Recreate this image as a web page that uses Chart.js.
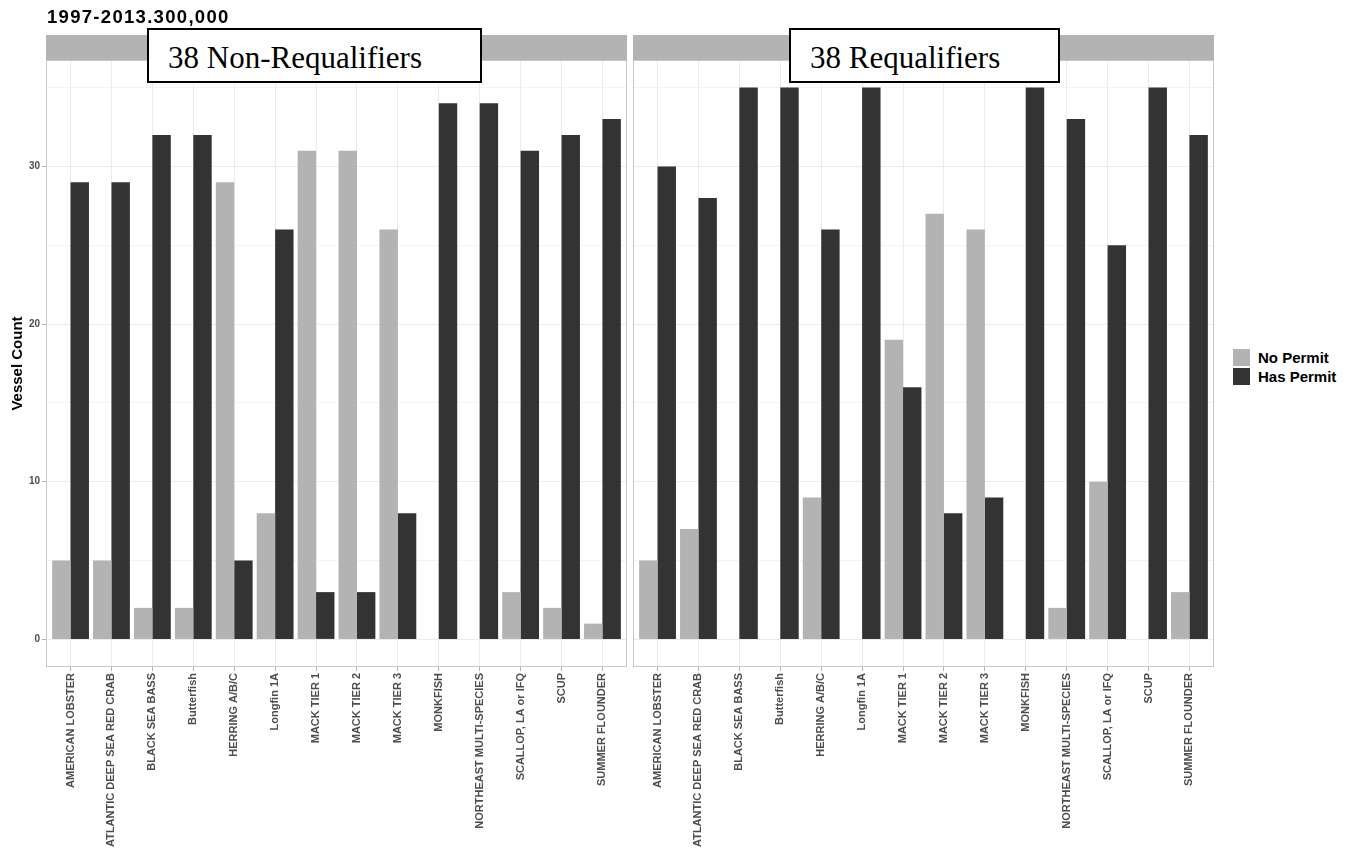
<!DOCTYPE html>
<html lang="en">
<head>
<meta charset="UTF-8">
<title>Vessel Count by Permit, 1997-2013</title>
<script src="https://cdn.jsdelivr.net/npm/chart.js"></script>
<style>
  body{margin:0;background:#fff;font-family:'Liberation Sans',Arial,sans-serif}
  #wrap{position:relative;width:1351px;height:852px;overflow:hidden}
  #cLeft{position:absolute;left:0;top:0}
  #cRight{position:absolute;left:631px;top:0}
  #title{position:absolute;left:47px;top:6px;font-weight:bold;font-size:18.5px;letter-spacing:1.3px;color:#000}
  .box{position:absolute;top:28px;height:51px;border:2px solid #000;background:#fff;
       font-family:'Liberation Serif','Times New Roman',serif;font-size:31px;line-height:55px;color:#000;white-space:nowrap}
  #legend{position:absolute;left:1233px;top:348px}
  .key{display:flex;align-items:center;height:19px}
  .key span.sw{width:17px;height:17px;margin-right:8px}
  .key span.lb{font-weight:bold;font-size:15px;color:#000}
</style>
</head>
<body>
<div id="wrap">
  <canvas id="cLeft" width="630" height="852"></canvas>
  <canvas id="cRight" width="585" height="852"></canvas>
  <div id="title"></div>
  <div class="box" id="boxLeft" style="left:147px;width:312px;padding-left:19px"></div>
  <div class="box" id="boxRight" style="left:789px;width:248px;padding-left:19px"></div>
  <div id="legend"></div>
</div>

<script>
const chartTitle = '1997-2013.300,000';
const panelTitles = ['38 Non-Requalifiers', '38 Requalifiers'];
const yTitle = 'Vessel Count';
const seriesNames = ['No Permit', 'Has Permit'];
const seriesColors = ['#b3b3b3', '#333333'];

const categories = ['AMERICAN LOBSTER','ATLANTIC DEEP SEA RED CRAB','BLACK SEA BASS','Butterfish',
  'HERRING A/B/C','Longfin 1A','MACK TIER 1','MACK TIER 2','MACK TIER 3','MONKFISH',
  'NORTHEAST MULTI-SPECIES','SCALLOP, LA or IFQ','SCUP','SUMMER FLOUNDER'];

// 38 Non-Requalifiers
const nonReqNoPermit  = [5, 5, 2, 2, 29, 8, 31, 31, 26, 0, 0, 3, 2, 1];
const nonReqHasPermit = [29, 29, 32, 32, 5, 26, 3, 3, 8, 34, 34, 31, 32, 33];
// 38 Requalifiers
const reqNoPermit  = [5, 7, 0, 0, 9, 0, 19, 27, 26, 0, 2, 10, 0, 3];
const reqHasPermit = [30, 28, 35, 35, 26, 35, 16, 8, 9, 35, 33, 25, 35, 32];

const yTicks = [0, 5, 10, 15, 20, 25, 30, 35];

Chart.defaults.font.family = "'Liberation Sans', Arial, sans-serif";

document.getElementById('title').textContent = chartTitle;
document.getElementById('boxLeft').textContent = panelTitles[0];
document.getElementById('boxRight').textContent = panelTitles[1];
document.getElementById('legend').innerHTML = seriesNames.map((n, i) =>
  `<div class="key"><span class="sw" style="background:${seriesColors[i]}"></span><span class="lb">${n}</span></div>`).join('');

/* grey strip on top of the panel + panel border (ggplot facet look) */
const panelPlugin = {
  id: 'panel',
  beforeDraw(chart){
    const {ctx, chartArea:a} = chart;
    ctx.save();
    ctx.fillStyle = '#b3b3b3';
    ctx.fillRect(a.left, 35, a.right - a.left, a.top - 35);
    ctx.restore();
  },
  afterDatasetsDraw(chart){
    const {ctx, chartArea:a} = chart;
    ctx.save();
    ctx.strokeStyle = '#c8c8c8';
    ctx.lineWidth = 1;
    ctx.strokeRect(a.left + 0.5, a.top + 0.5, a.right - a.left - 1, a.bottom - a.top - 1);
    ctx.restore();
  }
};

function makePanel(id, noP, hasP, showY){
  const txt = {color:'#4d4d4d', font:{size:11, weight:'bold'}};
  return new Chart(document.getElementById(id), {
    type: 'bar',
    data: {
      datasets: [
        {label: seriesNames[0], data: noP.map((v, i) => ({x: i, y: v})), backgroundColor: seriesColors[0]},
        {label: seriesNames[1], data: hasP.map((v, i) => ({x: i, y: v})), backgroundColor: seriesColors[1]}
      ]
    },
    options: {
      responsive: false,
      animation: false,
      layout: {padding: {top: 60, right: showY ? 3 : 2, left: showY ? 0 : 2, bottom: 0}},
      datasets: {bar: {categoryPercentage: 0.9, barPercentage: 1}},
      plugins: {legend: {display: false}, tooltip: {enabled: false}},
      scales: {
        x: {
          type: 'linear', min: -0.6, max: 13.6, offset: false,
          afterBuildTicks: s => { s.ticks = categories.map((_, i) => ({value: i})); },
          afterFit: s => { s.height = 185; s.paddingLeft = 0; s.paddingRight = 0; },
          grid: {offset: false, color: '#ebebeb', tickColor: '#b3b3b3', tickLength: 4},
          border: {display: false},
          ticks: {autoSkip: false, minRotation: 90, maxRotation: 90, padding: 2,
                  color: txt.color, font: txt.font, callback: v => categories[v]}
        },
        y: {
          min: -1.75, max: 36.75,
          afterBuildTicks: s => { s.ticks = yTicks.map(v => ({value: v})); },
          afterFit: s => { s.width = showY ? 46 : 0; s.paddingTop = 0; s.paddingBottom = 0; },
          grid: {
            color: c => c.tick && c.tick.value % 10 === 0 ? '#ebebeb' : '#f3f3f3',
            tickColor: c => c.tick && c.tick.value % 10 === 0 ? '#b3b3b3' : 'rgba(0,0,0,0)',
            tickLength: 4, drawTicks: showY
          },
          border: {display: false},
          ticks: {display: showY, padding: 2, color: txt.color, font: {size: 10, weight: 'bold'},
                  callback: v => v % 10 === 0 ? v : ''},
          title: {display: showY, text: yTitle, color: '#000',
                  font: {size: 15, weight: 'bold'}, padding: {top: 9, bottom: 0}}
        }
      }
    },
    plugins: [panelPlugin]
  });
}

makePanel('cLeft', nonReqNoPermit, nonReqHasPermit, true);
makePanel('cRight', reqNoPermit, reqHasPermit, false);
</script>
</body>
</html>
